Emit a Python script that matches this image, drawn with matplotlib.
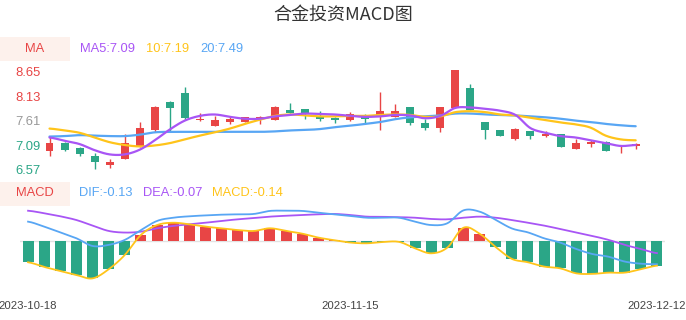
import numpy as np
import matplotlib
matplotlib.use("Agg")
import matplotlib.pyplot as plt
from matplotlib.patches import Rectangle
from matplotlib.transforms import blended_transform_factory

plt.rcParams['font.family'] = ['Liberation Sans', 'DejaVu Sans']

# ---------------- data ----------------
dates = ["2023-10-18", "2023-10-19", "2023-10-20", "2023-10-23", "2023-10-24",
         "2023-10-25", "2023-10-26", "2023-10-27", "2023-10-30", "2023-10-31",
         "2023-11-01", "2023-11-02", "2023-11-03", "2023-11-06", "2023-11-07",
         "2023-11-08", "2023-11-09", "2023-11-10", "2023-11-13", "2023-11-14",
         "2023-11-15", "2023-11-16", "2023-11-17", "2023-11-20", "2023-11-21",
         "2023-11-22", "2023-11-23", "2023-11-24", "2023-11-27", "2023-11-28",
         "2023-11-29", "2023-11-30", "2023-12-01", "2023-12-04", "2023-12-05",
         "2023-12-06", "2023-12-07", "2023-12-08", "2023-12-11", "2023-12-12"]

open_ = [6.97, 7.14, 7.02, 6.86, 6.67, 6.79, 7.04, 7.41, 8.00, 8.20,
         7.62, 7.49, 7.57, 7.58, 7.64, 7.62, 7.83, 7.85, 7.69, 7.66,
         7.62, 7.68, 7.68, 7.69, 7.89, 7.56, 7.45, 7.87, 8.30, 7.57,
         7.40, 7.21, 7.39, 7.29, 7.32, 7.01, 7.12, 7.15, 7.06, 7.07]
close = [7.14, 6.98, 6.89, 6.73, 6.72, 7.14, 7.45, 7.91, 7.87, 7.67,
         7.64, 7.62, 7.64, 7.68, 7.69, 7.89, 7.77, 7.77, 7.64, 7.63,
         7.75, 7.65, 7.81, 7.82, 7.56, 7.46, 7.89, 8.68, 7.84, 7.42,
         7.28, 7.43, 7.29, 7.33, 7.05, 7.13, 7.15, 6.97, 7.07, 7.12]
high = [7.25, 7.16, 7.04, 6.91, 6.79, 7.32, 7.57, 7.92, 8.03, 8.32,
        7.78, 7.71, 7.69, 7.68, 7.71, 7.93, 7.99, 7.86, 7.81, 7.69,
        7.79, 7.75, 8.23, 7.97, 7.89, 7.64, 7.89, 8.68, 8.38, 7.58,
        7.40, 7.45, 7.39, 7.39, 7.32, 7.22, 7.20, 7.18, 7.09, 7.13]
low = [6.86, 6.97, 6.86, 6.57, 6.59, 6.79, 7.04, 7.37, 7.39, 7.62,
       7.60, 7.49, 7.53, 7.57, 7.54, 7.62, 7.77, 7.64, 7.60, 7.56,
       7.60, 7.54, 7.41, 7.69, 7.52, 7.40, 7.37, 7.87, 7.84, 7.22,
       7.28, 7.20, 7.22, 7.26, 7.05, 7.00, 7.05, 6.97, 6.91, 7.01]

ma5 = [7.25, 7.18, 7.11, 6.98, 6.89, 6.89, 6.99, 7.19, 7.42, 7.61,
       7.71, 7.74, 7.69, 7.65, 7.65, 7.70, 7.73, 7.76, 7.75, 7.74,
       7.71, 7.69, 7.70, 7.73, 7.72, 7.66, 7.71, 7.88, 7.89, 7.86,
       7.82, 7.73, 7.45, 7.35, 7.28, 7.25, 7.19, 7.13, 7.07, 7.09]
ma10 = [7.44, 7.40, 7.35, 7.25, 7.15, 7.09, 7.06, 7.08, 7.13, 7.21,
        7.29, 7.36, 7.44, 7.54, 7.63, 7.71, 7.74, 7.72, 7.70, 7.70,
        7.71, 7.71, 7.73, 7.74, 7.73, 7.69, 7.70, 7.79, 7.81, 7.79,
        7.74, 7.72, 7.67, 7.62, 7.57, 7.53, 7.46, 7.29, 7.21, 7.19]
ma20 = [7.27, 7.28, 7.30, 7.29, 7.28, 7.28, 7.31, 7.36, 7.37, 7.37,
        7.37, 7.37, 7.37, 7.37, 7.37, 7.38, 7.40, 7.41, 7.43, 7.47,
        7.50, 7.54, 7.58, 7.64, 7.68, 7.70, 7.72, 7.76, 7.76, 7.74,
        7.73, 7.72, 7.70, 7.68, 7.65, 7.61, 7.58, 7.54, 7.51, 7.49]

dif = [0.108, 0.080, 0.048, 0.015, -0.028, -0.022, 0.006, 0.061, 0.112, 0.130,
       0.138, 0.143, 0.147, 0.149, 0.151, 0.168, 0.169, 0.168, 0.158, 0.149,
       0.140, 0.130, 0.130, 0.130, 0.108, 0.089, 0.099, 0.171, 0.164, 0.118,
       0.070, 0.048, 0.015, -0.009, -0.045, -0.073, -0.088, -0.115, -0.127, -0.130]
dea = [0.169, 0.155, 0.138, 0.117, 0.086, 0.056, 0.047, 0.052, 0.071, 0.084,
       0.093, 0.102, 0.112, 0.121, 0.128, 0.136, 0.141, 0.145, 0.149, 0.151,
       0.145, 0.136, 0.135, 0.133, 0.130, 0.123, 0.121, 0.130, 0.136, 0.130,
       0.117, 0.102, 0.086, 0.067, 0.048, 0.028, 0.006, -0.022, -0.045, -0.068]
macd = [-0.119, -0.145, -0.168, -0.190, -0.209, -0.158, -0.078, 0.034, 0.089, 0.102,
        0.093, 0.080, 0.071, 0.061, 0.056, 0.071, 0.056, 0.041, 0.019, 0.004,
        -0.009, -0.013, -0.006, -0.005, -0.041, -0.069, -0.037, 0.074, 0.041, -0.034,
        -0.100, -0.119, -0.143, -0.153, -0.181, -0.184, -0.177, -0.177, -0.158, -0.138]

price_ticks = [6.57, 7.09, 7.61, 8.13, 8.65]
date_tick_idx = [0, 20, 39]
title = "合金投资MACD图"

# ---------------- style ----------------
RED = '#e84545'
GREEN = '#2ba687'
PURPLE = '#a855f5'
YELLOW = '#ffc41a'
BLUE = '#58a6f4'
BOXBG = '#fdf1ec'

W, H = 686, 320
fig = plt.figure(figsize=(W / 100, H / 100), dpi=100)


def px_axes(left, top, right, bottom):
    return fig.add_axes([left / W, 1 - bottom / H, (right - left) / W, (bottom - top) / H])


def smooth(y, n=10):
    y = np.asarray(y, float)
    P = np.concatenate([[y[0]], y, [y[-1]]])
    xs, ys = [], []
    t = np.linspace(0, 1, n, endpoint=False)
    for i in range(len(y) - 1):
        p0, p1, p2, p3 = P[i], P[i + 1], P[i + 2], P[i + 3]
        ys.append(0.5 * (2 * p1 + (-p0 + p2) * t + (2 * p0 - 5 * p1 + 4 * p2 - p3) * t ** 2
                         + (-p0 + 3 * p1 - 3 * p2 + p3) * t ** 3))
        xs.append(i + t)
    xs.append([len(y) - 1])
    ys.append([y[-1]])
    return np.concatenate(xs), np.concatenate(ys)


def clean(ax):
    for s in ax.spines.values():
        s.set_visible(False)
    ax.tick_params(length=0)


# ---------------- candle panel ----------------
ax1 = px_axes(42, 64, 643.2, 178)
ax1.set_xlim(-0.5, len(close) - 0.5)
ax1.set_ylim(6.387, 8.816)
clean(ax1)
x = np.arange(len(close))
o = np.array(open_); c = np.array(close)
colors = [RED if cc >= oo else GREEN for oo, cc in zip(o, c)]
ax1.vlines(x, low, high, colors=colors, linewidth=1.0, zorder=2)
body_h = np.maximum(np.abs(c - o), 0.02)
ax1.bar(x, body_h, bottom=np.minimum(o, c), width=0.53, color=colors, zorder=3, linewidth=0)
for vals, col in [(ma20, BLUE), (ma10, YELLOW), (ma5, PURPLE)]:
    sx, sy = smooth(vals)
    ax1.plot(sx, sy, color=col, linewidth=1.6, zorder=4, solid_capstyle='round')
ax1.set_xticks([])
ax1.set_yticks(price_ticks)
ax1.set_yticklabels([f"{v:.2f}" for v in price_ticks], fontsize=9.4)
tick_colors = [GREEN, GREEN, '#999999', RED, RED]
for lab, col in zip(ax1.get_yticklabels(), tick_colors):
    lab.set_color(col)
ax1.tick_params(axis='y', pad=1)

# ---------------- MACD panel ----------------
ax2 = px_axes(20, 200, 665, 290)
ax2.set_xlim(-0.5, len(macd) - 0.5)
ax2.set_ylim(-0.274, 0.229)
clean(ax2)
ax2.axhline(0, color='#e2e2e2', linewidth=1.0, zorder=1)
mcol = [RED if v >= 0 else GREEN for v in macd]
ax2.bar(x, macd, width=0.68, color=mcol, zorder=2, linewidth=0)
for vals, col in [(dea, PURPLE), (dif, BLUE), (macd, YELLOW)]:
    sx, sy = smooth(vals)
    ax2.plot(sx, sy, color=col, linewidth=1.3, zorder=3)
ax2.set_yticks([])
ax2.set_xticks(date_tick_idx)
ax2.set_xticklabels([dates[i] for i in date_tick_idx], fontsize=8.2, color='#444444')
ax2.tick_params(axis='x', pad=8)

# ---------------- headers ----------------
def fig_box(x0, y0, x1, y1, color):
    fig.patches.append(Rectangle((x0 / W, 1 - y1 / H), (x1 - x0) / W, (y1 - y0) / H,
                                 transform=fig.transFigure, color=color, zorder=0, linewidth=0))


def ftext(xp, yp, s, color, size=9.3, ha='left', **kw):
    fig.text(xp / W, 1 - yp / H, s, color=color, fontsize=size, ha=ha, va='center', **kw)


fig_box(0, 37, 70, 61, BOXBG)
ftext(35, 49, "MA", RED, ha='center')
ftext(80, 48.5, f"MA5:{ma5[-1]:.2f}", PURPLE)
ftext(146, 48.5, f"10:{ma10[-1]:.2f}", YELLOW)
ftext(200.5, 48.5, f"20:{ma20[-1]:.2f}", BLUE)

fig_box(0, 182, 70, 205.5, BOXBG)
ftext(35, 193.5, "MACD", RED, ha='center')
ftext(79, 193.5, f"DIF:{dif[-1]:.2f}", BLUE)
ftext(143, 193.5, f"DEA:{dea[-1]:.2f}", PURPLE)
ftext(212, 193.5, f"MACD:{macd[-1]:.2f}", YELLOW)

fig.text(343.5 / W, 1 - 15 / H, title, ha='center', va='center', fontsize=13,
         color='#333333', family=['Noto Sans CJK SC', 'DejaVu Sans'])

fig.savefig('out.png', dpi=100)
